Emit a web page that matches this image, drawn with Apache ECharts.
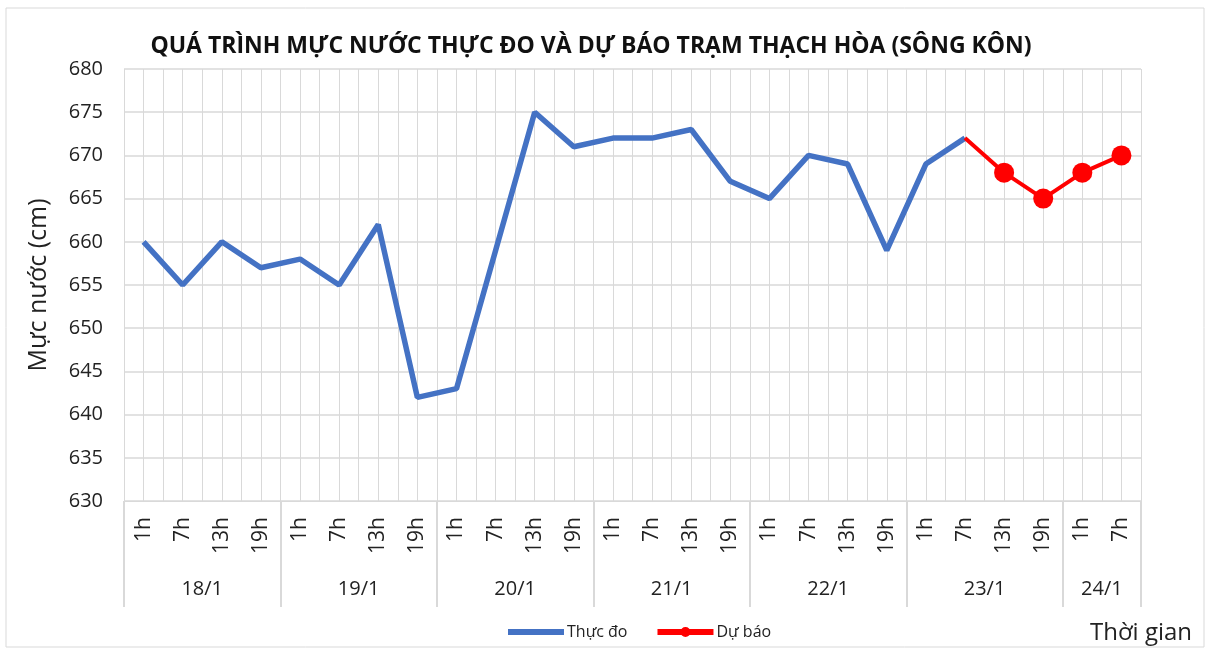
<!DOCTYPE html>
<html>
<head>
<meta charset="utf-8">
<script src="https://cdn.jsdelivr.net/npm/echarts@6/dist/echarts.min.js"></script>
<style>html,body{margin:0;padding:0;background:#fff}#c{width:1211px;height:650px}</style>
</head>
<body>
<div id="c"></div>
<script>
const hourLabels = ['1h','7h','13h','19h','1h','7h','13h','19h','1h','7h','13h','19h','1h','7h','13h','19h','1h','7h','13h','19h','1h','7h','13h','19h','1h','7h'];
const dates = ['18/1','19/1','20/1','21/1','22/1','23/1','24/1'];
const daySizes = [4,4,4,4,4,4,2];
const measured = [660,655,660,657,658,655,662,642,643,659,675,671,672,672,673,667,665,670,669,659,669,672];
const forecastStart = 21;
const forecast = [672,668,665,668,670];
const yTicks = {min:630, max:680, interval:5};

const FONT = "'Open Sans','Noto Sans',sans-serif";
const GRID = '#d9d9d9';

// half-category axis for dates / gridlines
const halfCats = [];
for (let i = 0; i <= hourLabels.length * 2; i++) halfCats.push(String(i));
const labelAt = {}; const boundary = new Set([0]);
let acc = 0;
dates.forEach((d, k) => { labelAt[acc * 2 + daySizes[k]] = d; acc += daySizes[k]; boundary.add(acc * 2); });

const measuredData = hourLabels.map((_, i) => i < measured.length ? measured[i] : '-');
const forecastData = hourLabels.map((_, i) => {
  const j = i - forecastStart;
  if (j < 0 || j >= forecast.length) return '-';
  return j === 0 ? {value: forecast[j], symbol: 'none'} : forecast[j];
});

const chart = echarts.init(document.getElementById('c'));
chart.setOption({
  animation: false,
  textStyle: {fontFamily: FONT},
  title: [
    {text: 'QUÁ TRÌNH MỰC NƯỚC THỰC ĐO VÀ DỰ BÁO TRẠM THẠCH HÒA (SÔNG KÔN)', left: 586, textAlign: 'center', top: 30,
     textStyle: {fontFamily: FONT, fontSize: 23, fontWeight: 'bold', color: '#111'}},
    {text: 'Thời gian', left: 1085, top: 616, textStyle: {fontFamily: FONT, fontSize: 24, fontWeight: 'normal', color: '#222'}}
  ],
  legend: {
    left: 503, top: 619, itemWidth: 56, itemHeight: 10, itemGap: 30,
    textStyle: {fontFamily: FONT, fontSize: 16, color: '#222', padding: [0, 0, 0, -2]},
    data: [
      {name: 'Thực đo', icon: 'path://M0,2 L56,2 L56,8 L0,8 Z'},
      {name: 'Dự báo', icon: 'path://M0,2 L24,2 L24,8 L0,8 Z M32,2 L56,2 L56,8 L32,8 Z M23,5 A5,5 0 1,1 33,5 A5,5 0 1,1 23,5 Z'}
    ]
  },
  graphic: [{type: 'rect', shape: {x: 6, y: 8, width: 1198, height: 639}, style: {fill: 'none', stroke: GRID, lineWidth: 1}, silent: true}],
  grid: {left: 124, right: 70, top: 69, bottom: 149},
  xAxis: [
    {type: 'category', data: hourLabels, boundaryGap: true, position: 'bottom',
     axisLine: {show: true, lineStyle: {color: GRID}}, axisTick: {show: false},
     axisLabel: {rotate: 90, interval: 0, margin: 16, fontSize: 21, color: '#222', fontFamily: FONT},
     splitLine: {show: false}},
    {type: 'category', data: halfCats, boundaryGap: false, position: 'bottom',
     axisLine: {show: false},
     axisTick: {show: true, length: 106, interval: (i) => boundary.has(i), lineStyle: {color: GRID, width: 2}},
     axisLabel: {interval: (i) => labelAt[i] !== undefined, formatter: (v, i) => labelAt[i] || '', margin: 78, fontSize: 20, color: '#222', fontFamily: FONT},
     splitLine: {show: true, interval: 0, lineStyle: {color: GRID}}}
  ],
  yAxis: {
    type: 'value', min: yTicks.min, max: yTicks.max, interval: yTicks.interval,
    name: 'Mực nước (cm)', nameLocation: 'middle', nameGap: 73, nameRotate: 90,
    nameTextStyle: {fontSize: 25, color: '#222', fontFamily: FONT},
    axisLine: {show: false}, axisTick: {show: false},
    axisLabel: {fontSize: 20, color: '#222', margin: 21, fontFamily: FONT},
    splitLine: {lineStyle: {color: GRID, width: 1.5}}
  },
  series: [
    {name: 'Thực đo', type: 'line', xAxisIndex: 0, data: measuredData, symbol: 'none',
     lineStyle: {color: '#4472C4', width: 5.5}, itemStyle: {color: '#4472C4'}},
    {name: 'Dự báo', type: 'line', xAxisIndex: 0, data: forecastData, symbol: 'circle', symbolSize: 20,
     lineStyle: {color: '#FF0000', width: 4}, itemStyle: {color: '#FF0000'}, z: 3}
  ]
});
</script>
</body>
</html>
